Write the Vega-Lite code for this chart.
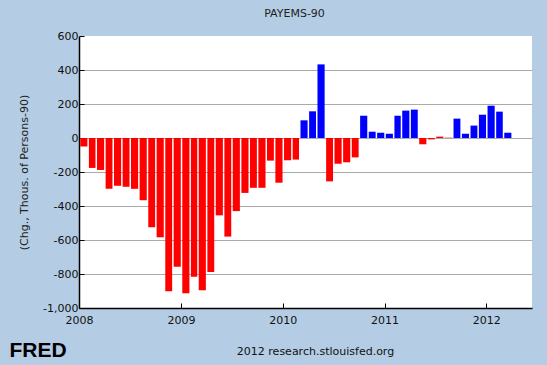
{
  "$schema": "https://vega.github.io/schema/vega-lite/v6.json",
  "width": 453,
  "height": 272,
  "autosize": "none",
  "padding": {"left": 79, "top": 36, "right": 15, "bottom": 57},
  "background": "#b4cde4",
  "config": {"font": "DejaVu Sans", "view": {"stroke": null, "fill": "white"}},
  "title": {"text": "PAYEMS-90", "fontSize": 11, "fontWeight": "normal", "color": "#222", "offset": 11, "dx": -11},
  "data": {"values": [
    {"date": "2008/01/01", "v": -50}, {"date": "2008/02/01", "v": -176}, {"date": "2008/03/01", "v": -188},
    {"date": "2008/04/01", "v": -299}, {"date": "2008/05/01", "v": -281}, {"date": "2008/06/01", "v": -287},
    {"date": "2008/07/01", "v": -299}, {"date": "2008/08/01", "v": -366}, {"date": "2008/09/01", "v": -525},
    {"date": "2008/10/01", "v": -584}, {"date": "2008/11/01", "v": -901}, {"date": "2008/12/01", "v": -758},
    {"date": "2009/01/01", "v": -913}, {"date": "2009/02/01", "v": -816}, {"date": "2009/03/01", "v": -895},
    {"date": "2009/04/01", "v": -788}, {"date": "2009/05/01", "v": -455}, {"date": "2009/06/01", "v": -580},
    {"date": "2009/07/01", "v": -430}, {"date": "2009/08/01", "v": -323}, {"date": "2009/09/01", "v": -293},
    {"date": "2009/10/01", "v": -293}, {"date": "2009/11/01", "v": -133}, {"date": "2009/12/01", "v": -263},
    {"date": "2010/01/01", "v": -131}, {"date": "2010/02/01", "v": -127}, {"date": "2010/03/01", "v": 104},
    {"date": "2010/04/01", "v": 157}, {"date": "2010/05/01", "v": 433}, {"date": "2010/06/01", "v": -255},
    {"date": "2010/07/01", "v": -151}, {"date": "2010/08/01", "v": -143}, {"date": "2010/09/01", "v": -114},
    {"date": "2010/10/01", "v": 131}, {"date": "2010/11/01", "v": 37}, {"date": "2010/12/01", "v": 31},
    {"date": "2011/01/01", "v": 25}, {"date": "2011/02/01", "v": 131}, {"date": "2011/03/01", "v": 161},
    {"date": "2011/04/01", "v": 167}, {"date": "2011/05/01", "v": -37}, {"date": "2011/06/01", "v": -8},
    {"date": "2011/07/01", "v": 8}, {"date": "2011/08/01", "v": 2}, {"date": "2011/09/01", "v": 114},
    {"date": "2011/10/01", "v": 25}, {"date": "2011/11/01", "v": 73}, {"date": "2011/12/01", "v": 137},
    {"date": "2012/01/01", "v": 190}, {"date": "2012/02/01", "v": 155}, {"date": "2012/03/01", "v": 31}
  ]},
  "layer": [
    {
      "mark": {"type": "bar", "binSpacing": 1.5},
      "encoding": {
        "x": {
          "field": "date", "timeUnit": "yearmonth", "type": "temporal",
          "scale": {"domain": [{"year": 2008, "month": 1, "date": 1}, {"year": 2012, "month": 6, "date": 13}]},
          "axis": {
            "tickCount": {"interval": "year", "step": 1}, "format": "%Y", "labelFontSize": 11, "labelColor": "#111",
            "labelFlush": false, "labelOverlap": false, "labelPadding": 11,
            "tickSize": -5, "tickColor": "#000", "domainColor": "#000", "domainWidth": 1.5, "grid": false,
            "title": "2012 research.stlouisfed.org", "titleFontWeight": "normal", "titleFontSize": 11, "titleColor": "#111",
            "titleX": 236, "titleY": 37
          }
        },
        "y": {
          "field": "v", "type": "quantitative",
          "scale": {"domain": [-1000, 600], "nice": false},
          "axis": {
            "values": [-1000, -800, -600, -400, -200, 0, 200, 400, 600], "format": ",.0f", "labelOverlap": false,
            "labelExpr": "replace(datum.label, '\u2212', '-')",
            "labelFontSize": 11, "labelColor": "#111", "labelPadding": 6,
            "tickSize": -5, "tickColor": "#000", "domainColor": "#000", "domainWidth": 1.5,
            "gridColor": {"condition": {"test": "datum.value == 600", "value": "transparent"}, "value": "#aaaaaa"},
            "title": "(Chg., Thous. of Persons-90)", "titleFontWeight": "normal", "titleFontSize": 11, "titleColor": "#222",
            "titlePadding": 13
          }
        },
        "color": {"condition": {"test": "datum.v > 10", "value": "#0000ff"}, "value": "#ff0000"}
      }
    },
    {
      "mark": {"type": "bar", "opacity": 0},
      "encoding": {
        "x": {
          "field": "date", "timeUnit": "yearmonth", "type": "temporal",
          "axis": {
            "orient": "bottom", "labels": false, "ticks": false, "domain": false, "grid": false,
            "title": "FRED", "titleFontSize": 21, "titleFontWeight": "bold", "titleFont": "Liberation Sans", "titleColor": "#000",
            "titleAlign": "left", "titleX": -70, "titleY": 31
          }
        }
      }
    }
  ],
  "resolve": {"axis": {"x": "independent"}}
}
